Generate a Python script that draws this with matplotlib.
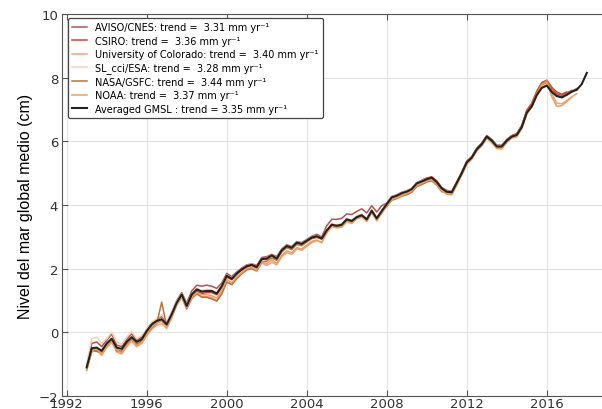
import numpy as np
import matplotlib
matplotlib.use("Agg")
from matplotlib import pyplot as plt

# quarterly time axis, 1993.0 .. 2018.0
t = np.arange(1993.0, 2018.01, 0.25)

aviso = [
    -1.05, -0.35, -0.30, -0.45, -0.25, -0.05, -0.40, -0.45, -0.22, -0.05, -0.25, -0.15,
    0.10, 0.30, 0.40, 0.50, 0.32, 0.62, 1.00, 1.25, 0.92, 1.30, 1.48, 1.45,
    1.48, 1.45, 1.38, 1.55, 1.85, 1.75, 1.90, 2.02, 2.12, 2.15, 2.10, 2.35,
    2.38, 2.45, 2.38, 2.62, 2.75, 2.70, 2.85, 2.82, 2.92, 3.02, 3.08, 3.00,
    3.35, 3.55, 3.55, 3.58, 3.72, 3.70, 3.80, 3.88, 3.75, 3.98, 3.78, 3.98,
    4.06, 4.27, 4.32, 4.40, 4.45, 4.52, 4.70, 4.78, 4.85, 4.88, 4.76, 4.55,
    4.46, 4.43, 4.72, 5.04, 5.38, 5.52, 5.78, 5.95, 6.18, 6.06, 5.88, 5.88,
    6.06, 6.18, 6.24, 6.50, 6.95, 7.15, 7.50, 7.75, 7.85, 7.62, 7.50, 7.44, 7.52, 7.60]

csiro = [
    -1.15, -0.60, -0.58, -0.68, -0.45, -0.28, -0.55, -0.60, -0.38, -0.22, -0.38, -0.28,
    -0.02, 0.20, 0.30, 0.36, 0.20, 0.52, 0.90, 1.15, 0.80, 1.15, 1.30, 1.22,
    1.25, 1.25, 1.18, 1.40, 1.74, 1.65, 1.82, 1.95, 2.05, 2.10, 2.02, 2.28,
    2.30, 2.40, 2.30, 2.56, 2.70, 2.64, 2.80, 2.76, 2.86, 2.98, 3.02, 2.94,
    3.20, 3.40, 3.36, 3.40, 3.56, 3.50, 3.64, 3.70, 3.56, 3.84, 3.60, 3.82,
    4.05, 4.26, 4.30, 4.38, 4.43, 4.52, 4.70, 4.76, 4.84, 4.88, 4.74, 4.52,
    4.43, 4.40, 4.72, 5.02, 5.36, 5.52, 5.78, 5.94, 6.18, 6.05, 5.86, 5.86,
    6.04, 6.18, 6.24, 6.50, 6.98, 7.20, 7.58, 7.85, 7.92, 7.70, 7.55, 7.48, 7.55]

colorado = [
    -1.20, -0.62, -0.55, -0.72, -0.48, -0.32, -0.62, -0.68, -0.45, -0.28, -0.45, -0.35,
    -0.10, 0.10, 0.22, 0.28, 0.12, 0.45, 0.85, 1.10, 0.72, 1.05, 1.20, 1.12,
    1.12, 1.10, 1.00, 1.25, 1.60, 1.50, 1.70, 1.85, 1.98, 2.00, 1.92, 2.18,
    2.10, 2.20, 2.12, 2.38, 2.50, 2.45, 2.62, 2.58, 2.70, 2.82, 2.88, 2.82,
    3.15, 3.35, 3.30, 3.32, 3.50, 3.45, 3.58, 3.65, 3.50, 3.78, 3.52, 3.76,
    3.98, 4.20, 4.24, 4.32, 4.36, 4.45, 4.64, 4.70, 4.78, 4.82, 4.66, 4.46,
    4.36, 4.34, 4.64, 4.96, 5.30, 5.45, 5.70, 5.86, 6.10, 5.96, 5.78, 5.78,
    5.98, 6.12, 6.16, 6.42, 6.88, 7.10, 7.48, 7.80, 7.90, 7.50, 7.20, 7.18, 7.28, 7.40, 7.50]

sl_cci = [
    -1.00, -0.20, -0.15, -0.35, -0.20, 0.00, -0.30, -0.38, -0.15, 0.02, -0.20, -0.10,
    0.12, 0.32, 0.42, 0.55, 0.35, 0.62, 0.98, 1.22, 0.88, 1.20, 1.38, 1.32,
    1.35, 1.32, 1.25, 1.48, 1.80, 1.70, 1.86, 2.00, 2.10, 2.14, 2.06, 2.30,
    2.34, 2.44, 2.34, 2.60, 2.72, 2.68, 2.84, 2.80, 2.90, 3.00, 3.04, 2.96,
    3.22, 3.40, 3.38, 3.40, 3.58, 3.52, 3.66, 3.70, 3.58, 3.84, 3.60, 3.84,
    4.05, 4.26, 4.30, 4.38, 4.44, 4.52, 4.70, 4.76, 4.82, 4.86, 4.72, 4.52,
    4.44, 4.42, 4.72, 5.02, 5.34, 5.50, 5.76, 5.92, 6.16, 6.02, 5.86, 5.86,
    6.02, 6.16, 6.22, 6.48, 6.92, 7.12, 7.48, 7.72, 7.80]

nasa = [
    -1.15, -0.55, -0.60, -0.62, -0.40, -0.22, -0.58, -0.62, -0.40, -0.22, -0.40, -0.30,
    -0.05, 0.15, 0.28, 0.95, 0.18, 0.50, 0.88, 1.12, 0.75, 1.08, 1.22, 1.10,
    1.10, 1.05, 0.98, 1.20, 1.58, 1.50, 1.68, 1.84, 1.96, 2.00, 1.94, 2.20,
    2.24, 2.34, 2.26, 2.52, 2.66, 2.60, 2.76, 2.72, 2.84, 2.94, 2.98, 2.92,
    3.18, 3.36, 3.32, 3.36, 3.52, 3.48, 3.60, 3.66, 3.52, 3.80, 3.56, 3.80,
    3.95, 4.15, 4.20, 4.28, 4.32, 4.40, 4.58, 4.64, 4.72, 4.76, 4.62, 4.42,
    4.40, 4.38, 4.68, 4.98, 5.32, 5.48, 5.72, 5.90, 6.14, 6.00, 5.82, 5.82,
    6.00, 6.14, 6.20, 6.46, 6.92, 7.15, 7.52, 7.82, 7.88, 7.62, 7.45, 7.40, 7.48, 7.58, 7.66]

noaa = [
    -1.18, -0.58, -0.50, -0.70, -0.42, -0.25, -0.55, -0.65, -0.42, -0.25, -0.42, -0.32,
    -0.05, 0.18, 0.30, 0.35, 0.18, 0.50, 0.88, 1.12, 0.78, 1.10, 1.25, 1.18,
    1.18, 1.15, 1.08, 1.32, 1.66, 1.56, 1.74, 1.88, 2.00, 2.04, 1.96, 2.22,
    2.16, 2.28, 2.16, 2.42, 2.56, 2.50, 2.66, 2.62, 2.74, 2.86, 2.90, 2.82,
    3.12, 3.32, 3.28, 3.30, 3.48, 3.42, 3.56, 3.62, 3.48, 3.76, 3.50, 3.74,
    3.96, 4.18, 4.22, 4.30, 4.36, 4.44, 4.62, 4.68, 4.76, 4.80, 4.64, 4.44,
    4.34, 4.32, 4.62, 4.94, 5.28, 5.44, 5.70, 5.86, 6.10, 5.96, 5.78, 5.76,
    5.96, 6.10, 6.14, 6.40, 6.85, 7.08, 7.45, 7.78, 7.86, 7.40, 7.10, 7.12, 7.25, 7.40]

gmsl_avg = [
    -1.10, -0.50, -0.48, -0.58, -0.35, -0.20, -0.48, -0.52, -0.30, -0.15, -0.30, -0.22,
    0.04, 0.25, 0.36, 0.41, 0.25, 0.57, 0.93, 1.19, 0.83, 1.19, 1.35, 1.28,
    1.30, 1.30, 1.22, 1.45, 1.78, 1.68, 1.85, 1.98, 2.08, 2.12, 2.05, 2.30,
    2.32, 2.42, 2.32, 2.58, 2.71, 2.66, 2.82, 2.78, 2.88, 2.98, 3.02, 2.95,
    3.20, 3.38, 3.35, 3.38, 3.55, 3.50, 3.62, 3.68, 3.55, 3.82, 3.58, 3.81,
    4.03, 4.24, 4.29, 4.37, 4.42, 4.50, 4.68, 4.74, 4.81, 4.86, 4.72, 4.52,
    4.42, 4.40, 4.70, 5.00, 5.34, 5.49, 5.75, 5.91, 6.15, 6.02, 5.84, 5.84,
    6.02, 6.15, 6.20, 6.45, 6.90, 7.10, 7.45, 7.68, 7.75, 7.55, 7.42, 7.38,
    7.46, 7.56, 7.62, 7.80, 8.15]

names = ['AVISO/CNES', 'CSIRO', 'University of Colorado', 'SL_cci/ESA',
         'NASA/GSFC', 'NOAA']
trends = [3.31, 3.36, 3.40, 3.28, 3.44, 3.37]
series = [aviso, csiro, colorado, sl_cci, nasa, noaa]
colors = ['#b5524f', '#d9432b', '#f2a07b', '#f9cfb0', '#b8733f', '#e8a060']
avg_trend = 3.35

fig = plt.figure(figsize=(6.02, 4.10), dpi=100)
ax = fig.add_axes([62.3 / 602, 13 / 410, (602 - 62.3) / 602, 382 / 410])

for name, tr, s, c in zip(names, trends, series, colors):
    ax.plot(t[:len(s)], s, color=c, lw=1.1,
            label=f'{name}: trend =  {tr:.2f} mm yr\u207b\u00b9')
ax.plot(t[:len(gmsl_avg)], gmsl_avg, color='#222222', lw=1.5,
        label=f'Averaged GMSL : trend = {avg_trend:.2f} mm yr\u207b\u00b9')

ax.set_xlim(1991.78, 2018.76)
ax.set_ylim(-2, 10)
ax.set_xticks([1992, 1996, 2000, 2004, 2008, 2012, 2016])
ax.set_yticks([-2, 0, 2, 4, 6, 8, 10])
ax.grid(True, color='#e4e4e4', lw=0.8)
ax.set_axisbelow(True)

ax.tick_params(direction='in', top=True, right=False, length=4,
               color='#555555', labelsize=9.5, labelcolor='#333333')
ax.tick_params(axis='x', pad=1)
ax.tick_params(axis='y', pad=3)
for side in ['left', 'bottom', 'top']:
    ax.spines[side].set_color('#555555')
ax.spines['right'].set_visible(False)

ax.set_ylabel('Nivel del mar global medio (cm)', family='Liberation Sans',
              fontsize=11.5, labelpad=4)

leg = ax.legend(loc='upper left', bbox_to_anchor=(0.0106, 0.99),
                fontsize=7, handlelength=1.5, handletextpad=0.8,
                labelspacing=0.35, borderpad=0.45, borderaxespad=0.0,
                frameon=True, fancybox=True, framealpha=1.0)
leg.get_frame().set_edgecolor('#444444')
leg.get_frame().set_linewidth(0.9)

plt.savefig('out.png', dpi=100)
plt.close('all')
